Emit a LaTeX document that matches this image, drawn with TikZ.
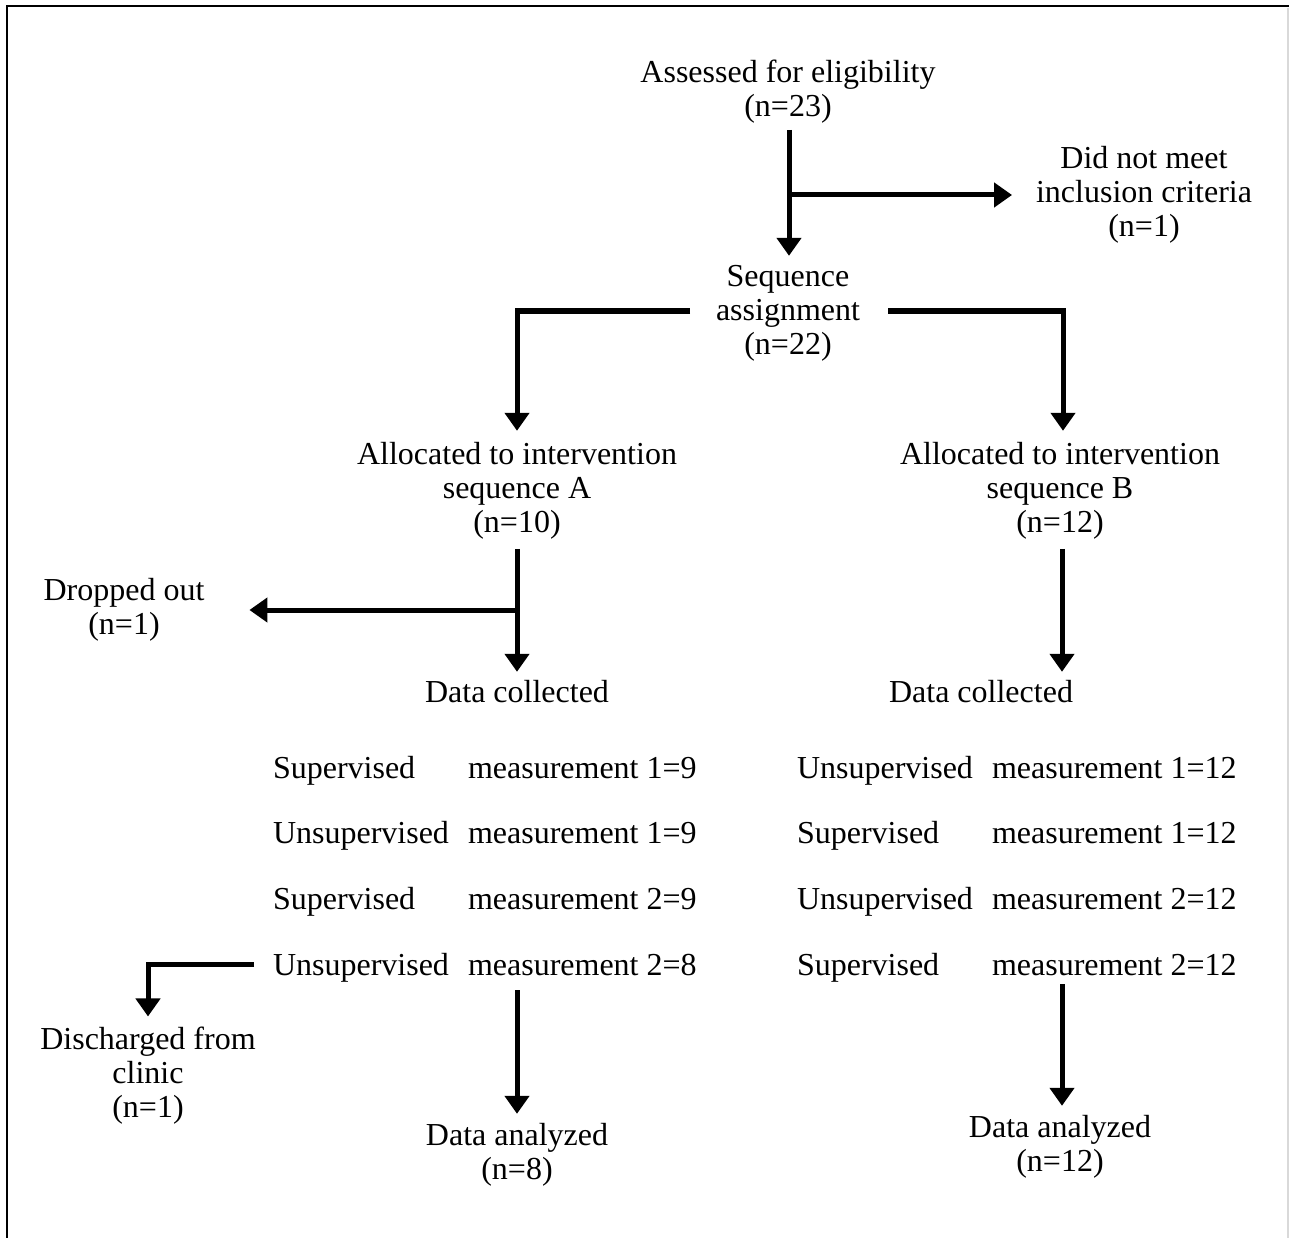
\documentclass[tikz,border=0pt]{standalone}
\usepackage{fontspec}
\setmainfont{Liberation Serif}
\usetikzlibrary{arrows.meta}
\begin{document}
\begin{tikzpicture}[x=1pt,y=-1pt,
  txt/.style={inner sep=0pt, outer sep=0pt, align=center, font=\fontsize{32}{34}\selectfont},
  cell/.style={inner sep=0pt, outer sep=0pt, anchor=base west, font=\fontsize{32}{34}\selectfont},
  conn/.style={line width=5pt},
  arr/.style={line width=5pt, -{Triangle[length=18pt,width=24pt]}}]
\useasboundingbox (0,0) rectangle (1289,1238);
% frame
\draw[line width=2.5pt] (7,1238) -- (7,6) -- (1289,6);
\draw[line width=1.5pt, black!15] (1288,8) -- (1288,1238);

% text nodes (base anchor = baseline of last line)
\node[txt, anchor=base] (assess) at (788,117) {Assessed for eligibility\\(n=23)};
\node[txt, anchor=base] (excl) at (1144,237) {Did not meet\\inclusion criteria\\(n=1)};
\node[txt, anchor=base] (seq) at (788,354) {Sequence\\assignment\\(n=22)};
\node[txt, anchor=base] (allocA) at (517,532) {Allocated to intervention\\sequence A\\(n=10)};
\node[txt, anchor=base] (allocB) at (1060,532) {Allocated to intervention\\sequence B\\(n=12)};
\node[txt, anchor=base] (drop) at (124,634) {Dropped out\\(n=1)};
\node[txt, anchor=base] (dcA) at (517,702) {Data collected};
\node[txt, anchor=base] (dcB) at (981,702) {Data collected};

\node[cell] (sA1) at (273,778) {Supervised};
\node[cell] (mA1) at (468,778) {measurement 1=9};
\node[cell] (sA2) at (273,843) {Unsupervised};
\node[cell] (mA2) at (468,843) {measurement 1=9};
\node[cell] (sA3) at (273,909) {Supervised};
\node[cell] (mA3) at (468,909) {measurement 2=9};
\node[cell] (sA4) at (273,975) {Unsupervised};
\node[cell] (mA4) at (468,975) {measurement 2=8};

\node[cell] (sB1) at (797,778) {Unsupervised};
\node[cell] (mB1) at (992,778) {measurement 1=12};
\node[cell] (sB2) at (797,843) {Supervised};
\node[cell] (mB2) at (992,843) {measurement 1=12};
\node[cell] (sB3) at (797,909) {Unsupervised};
\node[cell] (mB3) at (992,909) {measurement 2=12};
\node[cell] (sB4) at (797,975) {Supervised};
\node[cell] (mB4) at (992,975) {measurement 2=12};

\node[txt, anchor=base] (disch) at (148,1117) {Discharged from\\clinic\\(n=1)};
\node[txt, anchor=base] (daA) at (517,1179) {Data analyzed\\(n=8)};
\node[txt, anchor=base] (daB) at (1060,1171) {Data analyzed\\(n=12)};

% connectors
\coordinate (j1) at (789,195);
\coordinate (j2) at (517,610);
\draw[arr] (789,130) -- ([yshift=9pt]seq.north -| j1);
\draw[arr] (j1) -- ([xshift=-24pt]j1 -| excl.west);
\draw[arr] ([xshift=-26pt]seq.west |- 0,311) -- (517,311) -- ([yshift=11pt]allocA.north -| 517,0);
\draw[arr] ([xshift=28pt]seq.east |- 0,311) -- (1063,311) -- ([yshift=11pt]allocB.north -| 1063,0);
\draw[arr] ([yshift=-10pt]allocA.south) -- ([yshift=8pt]dcA.north);
\draw[arr] (j2) -- ([xshift=45pt]j2 -| drop.east);
\draw[arr] ([yshift=-10pt]allocB.south -| 1062,0) -- ([yshift=8pt]dcB.north -| 1062,0);
\draw[arr] ([xshift=-19pt]sA4.west |- 0,964) -- (disch.north |- 0,964) -- ([yshift=10pt]disch.north);
\draw[arr] ([yshift=-15pt]mA4.south -| daA) -- ([yshift=9pt]daA.north);
\draw[arr] ([yshift=-9pt]mB4.south -| 1062,0) -- ([yshift=9pt]daB.north -| 1062,0);
\end{tikzpicture}
\end{document}
